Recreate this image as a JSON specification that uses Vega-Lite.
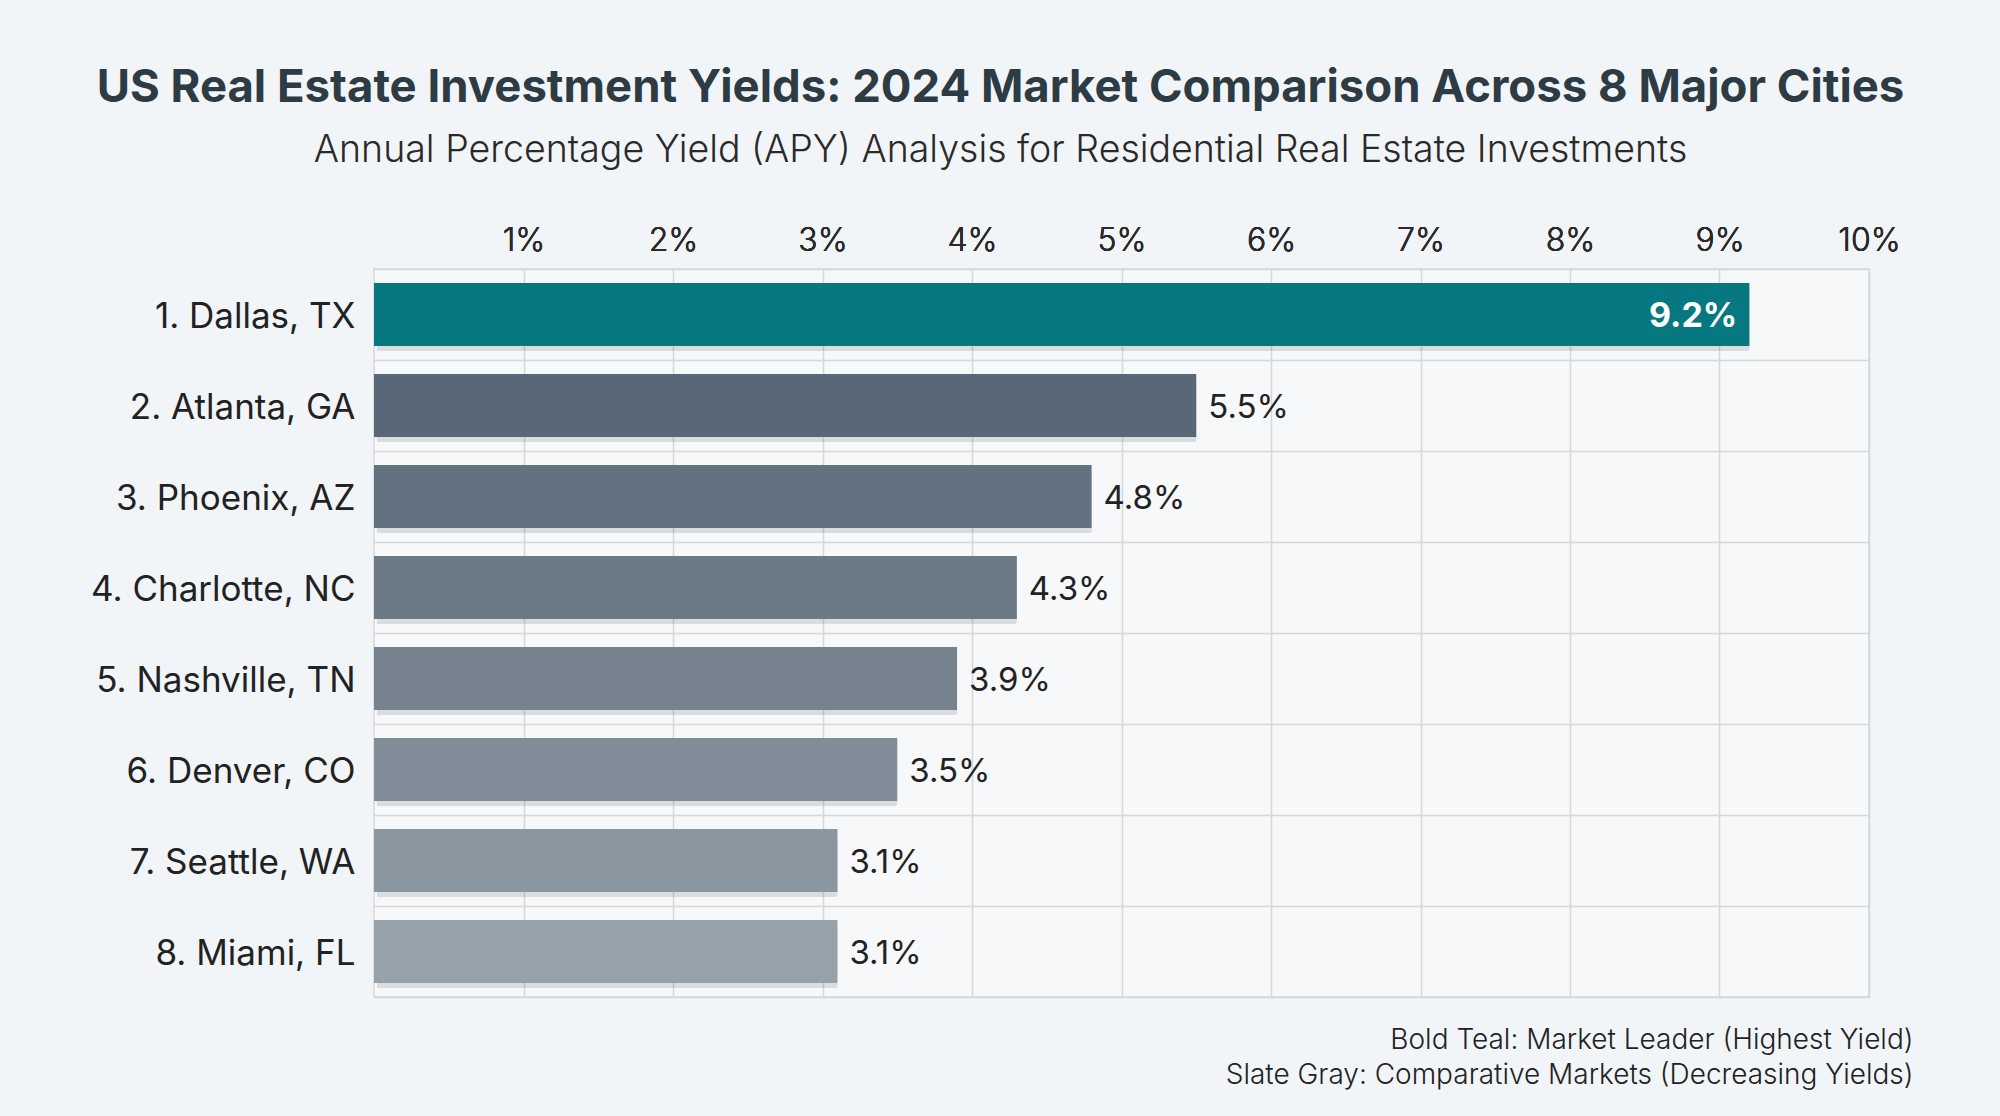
{
  "$schema": "https://vega.github.io/schema/vega-lite/v6.json",
  "width": 1495,
  "height": 728,
  "autosize": {"type": "none"},
  "padding": {"left": 374, "top": 269, "right": 131, "bottom": 119},
  "background": "#f2f5f7",
  "config": {
    "font": "Inter",
    "view": {"fill": "#f6f8fa", "stroke": "#d3d8dd", "strokeWidth": 1.5}
  },
  "title": {
    "text": "US Real Estate Investment Yields: 2024 Market Comparison Across 8 Major Cities",
    "subtitle": "Annual Percentage Yield (APY) Analysis for Residential Real Estate Investments",
    "anchor": "middle",
    "frame": "group",
    "dx": -121,
    "dy": -3,
    "fontSize": 45.5,
    "fontWeight": "bold",
    "color": "#2d3b45",
    "subtitleFontSize": 37.5,
    "subtitleFontWeight": 300,
    "subtitleColor": "#2a2a2a",
    "subtitlePadding": 20,
    "offset": 52
  },
  "data": {
    "values": [
      {"city": "1. Dallas, TX", "apy": 0.092},
      {"city": "2. Atlanta, GA", "apy": 0.055},
      {"city": "3. Phoenix, AZ", "apy": 0.048},
      {"city": "4. Charlotte, NC", "apy": 0.043},
      {"city": "5. Nashville, TN", "apy": 0.039},
      {"city": "6. Denver, CO", "apy": 0.035},
      {"city": "7. Seattle, WA", "apy": 0.031},
      {"city": "8. Miami, FL", "apy": 0.031}
    ]
  },
  "encoding": {
    "y": {
      "field": "city",
      "type": "nominal",
      "sort": null,
      "scale": {"paddingInner": 0, "paddingOuter": 0},
      "axis": {
        "title": null,
        "domain": false,
        "ticks": false,
        "labelFontSize": 35,
        "labelFontWeight": 400,
        "labelColor": "#222222",
        "labelPadding": 19,
        "labelLimit": 0,
        "labelOffset": 2,
        "grid": true,
        "tickBand": "extent",
        "gridColor": "#d3d8dd",
        "gridWidth": 1.5
      }
    },
    "x": {
      "field": "apy",
      "type": "quantitative",
      "scale": {"domain": [0, 0.1], "nice": false},
      "axis": {
        "orient": "top",
        "title": null,
        "values": [0.01, 0.02, 0.03, 0.04, 0.05, 0.06, 0.07, 0.08, 0.09, 0.1],
        "format": ".0%",
        "domain": false,
        "ticks": false,
        "labelFlush": false,
        "labelFontSize": 32,
        "labelFontWeight": 300,
        "labelColor": "#2a2a2a",
        "labelPadding": 12,
        "gridColor": "#d3d8dd",
        "gridWidth": 1.5
      }
    }
  },
  "layer": [
    {
      "mark": {"type": "bar", "height": {"band": 0.69}, "color": "#1f2a33", "opacity": 0.13, "xOffset": 3, "yOffset": 5, "cornerRadius": 2}
    },
    {
      "mark": {"type": "bar", "height": {"band": 0.69}},
      "encoding": {
        "color": {
          "field": "city",
          "type": "nominal",
          "legend": null,
          "scale": {
            "domain": ["1. Dallas, TX", "2. Atlanta, GA", "3. Phoenix, AZ", "4. Charlotte, NC", "5. Nashville, TN", "6. Denver, CO", "7. Seattle, WA", "8. Miami, FL"],
            "range": ["#077780", "#586878", "#637280", "#6c7a86", "#76838e", "#808d98", "#8a96a0", "#96a1aa"]
          }
        }
      }
    },
    {
      "transform": [{"filter": "datum.apy >= 0.09"}],
      "mark": {"type": "text", "align": "right", "dx": -12, "dy": 2, "fontSize": 34, "fontWeight": "bold", "color": "#ffffff"},
      "encoding": {"text": {"field": "apy", "type": "quantitative", "format": ".1%"}}
    },
    {
      "transform": [{"filter": "datum.apy < 0.09"}],
      "mark": {"type": "text", "align": "left", "dx": 12, "dy": 2, "fontSize": 33, "color": "#222222"},
      "encoding": {"text": {"field": "apy", "type": "quantitative", "format": ".1%"}}
    },
    {
      "mark": {"type": "rule", "opacity": 0},
      "encoding": {
        "x": {
          "field": "apy",
          "type": "quantitative",
          "axis": {
            "orient": "bottom",
            "labels": false,
            "ticks": false,
            "domain": false,
            "grid": false,
            "title": ["Bold Teal: Market Leader (Highest Yield)", "Slate Gray: Comparative Markets (Decreasing Yields)"],
            "titleFontSize": 28,
            "titleFontWeight": 300,
            "titleColor": "#222222",
            "titleAnchor": "end",
            "titleAlign": "right",
            "titleBaseline": "top",
            "titleLineHeight": 35,
            "titleX": 1539,
            "titleY": 29
          }
        }
      }
    }
  ],
  "resolve": {"axis": {"x": "independent"}}
}
